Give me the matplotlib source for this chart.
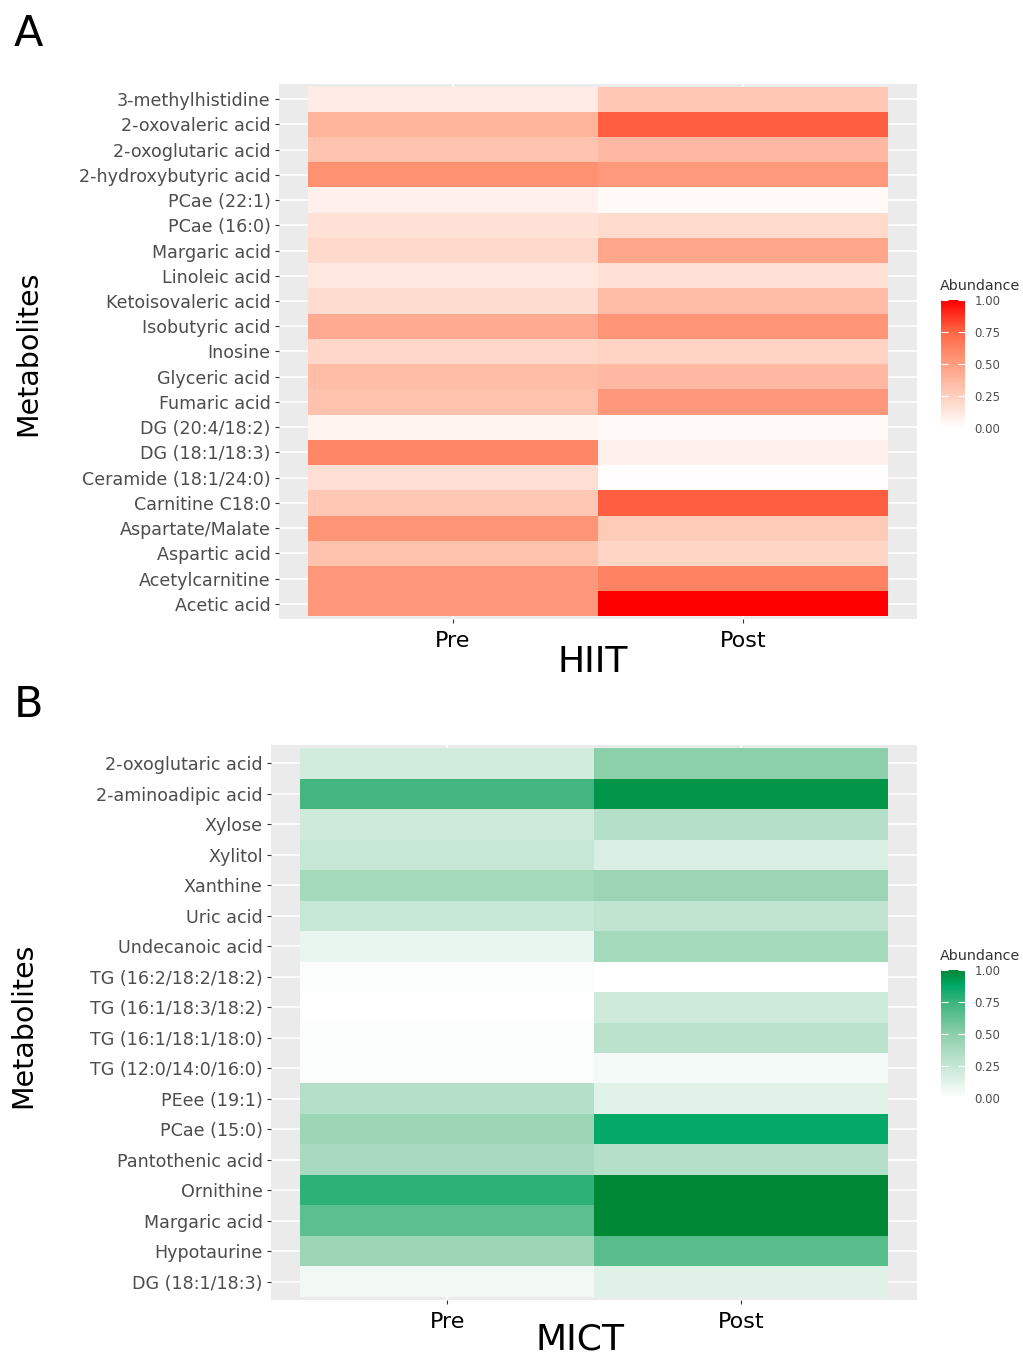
import numpy as np
import matplotlib
matplotlib.use("Agg")
import matplotlib.pyplot as plt
from matplotlib.colors import LinearSegmentedColormap, Normalize
from matplotlib.cm import ScalarMappable

# panel A (HIIT), rows listed top to bottom
hiit_names = ["3-methylhistidine", "2-oxovaleric acid", "2-oxoglutaric acid",
              "2-hydroxybutyric acid", "PCae (22:1)", "PCae (16:0)", "Margaric acid",
              "Linoleic acid", "Ketoisovaleric acid", "Isobutyric acid", "Inosine",
              "Glyceric acid", "Fumaric acid", "DG (20:4/18:2)", "DG (18:1/18:3)",
              "Ceramide (18:1/24:0)", "Carnitine C18:0", "Aspartate/Malate",
              "Aspartic acid", "Acetylcarnitine", "Acetic acid"]
hiit_pre = [0.10, 0.39, 0.31, 0.56, 0.08, 0.16, 0.20, 0.12, 0.18, 0.44, 0.21,
            0.35, 0.32, 0.06, 0.61, 0.17, 0.29, 0.54, 0.32, 0.53, 0.53]
hiit_post = [0.29, 0.77, 0.37, 0.52, 0.03, 0.19, 0.46, 0.16, 0.34, 0.54, 0.23,
             0.36, 0.53, 0.03, 0.08, 0.01, 0.77, 0.27, 0.22, 0.63, 1.00]

# panel B (MICT)
mict_names = ["2-oxoglutaric acid", "2-aminoadipic acid", "Xylose", "Xylitol",
              "Xanthine", "Uric acid", "Undecanoic acid", "TG (16:2/18:2/18:2)",
              "TG (16:1/18:3/18:2)", "TG (16:1/18:1/18:0)", "TG (12:0/14:0/16:0)",
              "PEee (19:1)", "PCae (15:0)", "Pantothenic acid", "Ornithine",
              "Margaric acid", "Hypotaurine", "DG (18:1/18:3)"]
mict_pre = [0.20, 0.73, 0.22, 0.25, 0.40, 0.25, 0.10, 0.02, 0.00, 0.02, 0.02,
            0.33, 0.44, 0.38, 0.78, 0.65, 0.44, 0.06]
mict_post = [0.50, 0.95, 0.33, 0.17, 0.44, 0.28, 0.40, 0.00, 0.22, 0.30, 0.05,
             0.13, 0.87, 0.33, 1.00, 1.00, 0.67, 0.14]

groups = ["Pre", "Post"]

reds = LinearSegmentedColormap.from_list(
    "reds", [(0, "#FFFFFF"), (0.25, "#FFCFBE"), (0.5, "#FF9E81"),
             (0.75, "#FF6846"), (1, "#FF0000")])
greens = LinearSegmentedColormap.from_list(
    "greens", [(0, "#FFFFFF"), (0.25, "#C6E7D5"), (0.5, "#8DCFAB"),
               (0.75, "#3CB47C"), (0.88, "#00A866"), (1, "#008837")])

W, H = 1023, 1358
fig = plt.figure(figsize=(W / 100, H / 100), dpi=100)


def fx(px):
    return px / W


def fy(py):
    return 1 - py / H


def panel(box, cbox, names, pre, post, cmap, title, title_xy, letter_xy, ylab_xy):
    l, t, r, b = box
    ax = fig.add_axes([fx(l), fy(b), fx(r) - fx(l), fy(t) - fy(b)])
    ax.set_facecolor("#EBEBEB")
    n = len(names)
    data = np.column_stack([pre, post])
    ax.pcolormesh(np.arange(3) + 0.5, np.arange(n + 1) + 0.5, data,
                  cmap=cmap, vmin=0, vmax=1)
    ax.set_xlim(0.4, 2.6)
    ax.set_ylim(n + 0.6, 0.4)
    ax.set_xticks([1, 2])
    ax.set_xticklabels(groups, fontsize=16, color="black")
    ax.set_yticks(np.arange(1, n + 1))
    ax.set_yticklabels(names, fontsize=12.6, color="#4D4D4D")
    ax.tick_params(axis="both", length=3, width=0.8, color="#333333")
    ax.tick_params(axis="x", pad=6)
    ax.tick_params(axis="y", pad=3)
    ax.grid(color="white", linewidth=1.2)
    ax.set_axisbelow(True)
    for s in ax.spines.values():
        s.set_visible(False)

    fig.text(fx(title_xy[0]), fy(title_xy[1]), title, fontsize=26,
             ha="center", va="center")
    fig.text(fx(letter_xy[0]), fy(letter_xy[1]), letter_xy[2], fontsize=31,
             ha="center", va="center")
    fig.text(fx(ylab_xy[0]), fy(ylab_xy[1]), "Metabolites", fontsize=20.5,
             rotation=90, ha="center", va="center")

    cl, ct, cr, cb = cbox
    cax = fig.add_axes([fx(cl), fy(cb), fx(cr) - fx(cl), fy(ct) - fy(cb)])
    cbar = fig.colorbar(ScalarMappable(Normalize(0, 1), cmap), cax=cax,
                        ticks=[0, 0.25, 0.5, 0.75, 1], format="%.2f")
    cbar.outline.set_visible(False)
    cax.tick_params(direction="in", length=5, width=0.8, color="white",
                    labelsize=8.5, labelcolor="#4D4D4D", left=True, right=True,
                    pad=7)
    fig.text(fx(cl - 1), fy(ct - 14), "Abundance", fontsize=10.3,
             color="#333333", ha="left", va="center")
    return ax


panel((279, 84, 917, 619), (941, 300, 965, 428), hiit_names, hiit_pre, hiit_post,
      reds, "HIIT", (593, 662), (28, 34, "A"), (28, 353))
panel((271, 745, 917, 1300), (941, 970, 965, 1098), mict_names, mict_pre, mict_post,
      greens, "MICT", (580, 1340), (28, 705, "B"), (23, 1025))

fig.savefig("out.png", dpi=100)
